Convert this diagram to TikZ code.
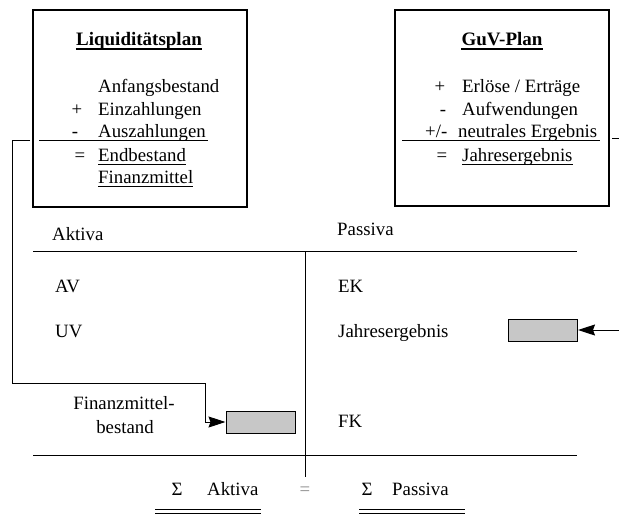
\documentclass[tikz,border=0pt]{standalone}
\usepackage{fontspec}
\setmainfont{Liberation Serif}
\usetikzlibrary{arrows.meta}
\begin{document}
\begin{tikzpicture}[x=1pt,y=-1pt,
  txt/.style={inner sep=0pt,anchor=base west,font=\fontsize{18.8}{22.5}\selectfont},
  ctxt/.style={inner sep=0pt,anchor=base,font=\fontsize{18.8}{22.5}\selectfont},
  ttl/.style={inner sep=0pt,anchor=base,font=\fontsize{19}{23}\selectfont\bfseries},
  frame/.style={draw,line width=1.1pt},
  rule/.style={line width=1pt},
  gbox/.style={draw,line width=1pt,fill=black!22,minimum width=69pt,minimum height=22pt,inner sep=0pt},
  conn/.style={line width=1pt},
  arr/.style={line width=1pt,-{Stealth[length=17pt,width=11pt,inset=2pt]}}
]
\useasboundingbox (0,0) rectangle (619,515);
% boxes
\draw[frame] (33,10) rectangle (247,207);
\draw[frame] (395,10) rectangle (609,206);
% Liquiditaetsplan
\node[ttl] (lt) at (139,45) {Liquiditätsplan};
\draw[line width=1.3pt] ([yshift=-4pt]lt.base west) -- ([yshift=-4pt]lt.base east);
\node[txt] (a1) at (98,92.7) {Anfangsbestand};
\node[ctxt] (s2) at (77,115) {+};
\node[txt] (a2) at (98,115) {Einzahlungen};
\node[ctxt] (s3) at (75,137) {-};
\node[txt] (a3) at (98,137) {Auszahlungen};
\draw[rule] (39,140) -- (208,140);
\node[ctxt] (s4) at (80,161) {=};
\node[txt] (a4) at (98,161) {Endbestand};
\draw[rule] ([yshift=-3pt]a4.base west) -- ([yshift=-3pt]a4.base east);
\node[txt] (a5) at (98,183) {Finanzmittel};
\draw[rule] ([yshift=-3pt]a5.base west) -- ([yshift=-3pt]a5.base east);
% GuV
\node[ttl] (gt) at (502,45) {GuV-Plan};
\draw[line width=1.3pt] ([yshift=-4pt]gt.base west) -- ([yshift=-4pt]gt.base east);
\node[ctxt] (g1s) at (440,92.7) {+};
\node[txt] (g1) at (462,92.7) {Erlöse / Erträge};
\node[ctxt] (g2s) at (443,115) {-};
\node[txt] (g2) at (462,115) {Aufwendungen};
\node[txt] (g3s) at (425,137) {+/-};
\node[txt] (g3) at (458,137) {neutrales Ergebnis};
\draw[rule] (402,140) -- (600,140);
\node[ctxt] (g4s) at (442,161) {=};
\node[txt] (g4) at (462,161) {Jahresergebnis};
\draw[rule] ([yshift=-3pt]g4.base west) -- ([yshift=-3pt]g4.base east);
% balance sheet
\node[txt] (akt) at (52,240) {Aktiva};
\node[txt] (pas) at (337,235) {Passiva};
\draw[rule] (33,251) -- (577,251);
\draw[rule] (305,251) -- (305,477);
\draw[rule] (33,455) -- (577,455);
\node[txt] (av) at (55,292) {AV};
\node[txt] (uv) at (55,337) {UV};
\node[txt] (ek) at (338,292) {EK};
\node[txt] (jer) at (338,337) {Jahresergebnis};
\node[txt] (fk) at (338,427) {FK};
\node[ctxt] (fm1) at (124,409) {Finanzmittel-};
\node[ctxt] (fm2) at (125,433) {bestand};
\node[gbox] (fm) at (260.5,422) {};
\node[gbox] (je) at (543,330) {};
% sums
\node[ctxt] (sa) at (177,495) {Σ};
\node[txt] (sat) at (207,495) {Aktiva};
\node[ctxt,text=black!45] (eq) at (305,495) {=};
\node[ctxt] (sp) at (367,495) {Σ};
\node[txt] (spt) at (392,495) {Passiva};
\draw[rule] (155,509) -- (261,509);
\draw[rule] (155,513) -- (261,513);
\draw[rule] (359,509) -- (465,509);
\draw[rule] (359,513) -- (465,513);
% connectors
\coordinate (ls) at (30,140);
\coordinate (l1) at (12,140);
\coordinate (l2) at (12,383);
\coordinate (l3) at (205,383);
\draw[arr] (ls) -- (l1) -- (l2) -- (l3) |- (fm.west);
\coordinate (rs) at (612,138);
\coordinate (r1) at (620.5,138);
\draw[arr] (rs) -- (r1) |- (je.east);
\end{tikzpicture}
\end{document}
